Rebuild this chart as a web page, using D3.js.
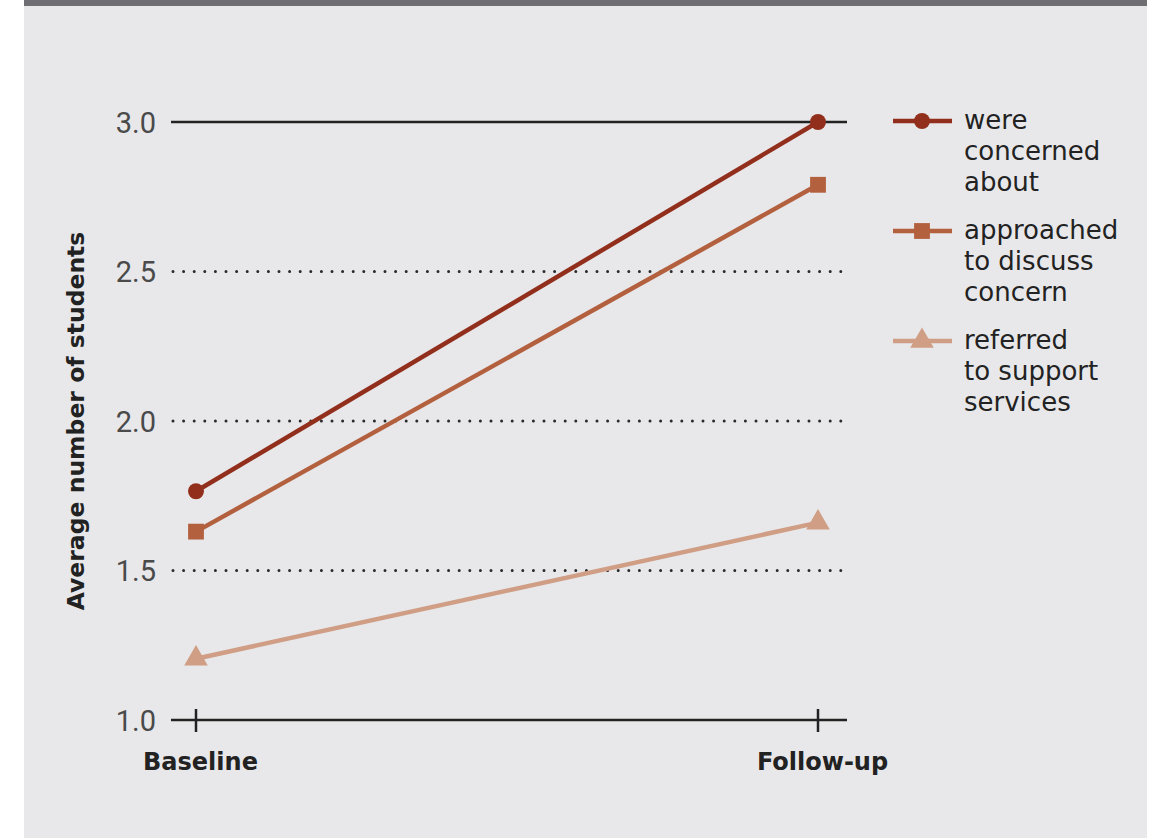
<!DOCTYPE html>
<html><head><meta charset="utf-8">
<script src="https://cdn.jsdelivr.net/npm/d3@7"></script>
<style>
html,body{margin:0;padding:0;background:#fff;}
svg{display:block;}
</style></head>
<body>
<script>
const categories = ["Baseline", "Follow-up"];
const seriesNames = ["were concerned about", "approached to discuss concern", "referred to support services"];
const legendLines = [["were", "concerned", "about"], ["approached", "to discuss", "concern"], ["referred", "to support", "services"]];
const concerned = [1.765, 3.0];
const approached = [1.63, 2.79];
const referred = [1.205, 1.66];
const yTicks = [1.0, 1.5, 2.0, 2.5, 3.0];
const colors = ["#922f1c", "#b3603f", "#d09d85"];
const symbols = [d3.symbolCircle, d3.symbolSquare, d3.symbolTriangle];
const symSizes = [200, 250, 240];

const W = 1157, H = 838;
const svg = d3.select("body").append("svg").attr("width", W).attr("height", H);
svg.append("rect").attr("x", 24).attr("y", 0).attr("width", 1123).attr("height", H).attr("fill", "#e8e8ea");
svg.append("rect").attr("x", 24).attr("y", 0).attr("width", 1123).attr("height", 6).attr("fill", "#6f6e73");

const y = d3.scaleLinear().domain([1, 3]).range([720, 122]);
const x = d3.scalePoint().domain(categories).range([196, 818]);
const xL = 171, xR = 847;

// gridlines
const g = svg.append("g");
yTicks.filter(t => t > 1 && t < 3).forEach(t => {
  g.append("line").attr("x1", xL + 2).attr("x2", xR).attr("y1", y(t)).attr("y2", y(t))
   .attr("stroke", "#2a2a2a").attr("stroke-width", 3).attr("stroke-linecap", "round")
   .attr("stroke-dasharray", "0 10.6");
});
g.append("line").attr("x1", xL).attr("x2", xR).attr("y1", y(3)).attr("y2", y(3))
 .attr("stroke", "#222").attr("stroke-width", 2.5);

// y axis labels
const yAxis = d3.axisLeft(y).tickValues(yTicks).tickFormat(d3.format(".1f")).tickSize(0).tickPadding(15);
const ya = svg.append("g").attr("transform", `translate(${xL},0)`).call(yAxis);
ya.select(".domain").remove();
ya.selectAll("text").attr("font-family", "'Liberation Sans Narrow', 'Roboto', sans-serif")
  .attr("font-size", 29).attr("fill", "#4a4a4a").attr("dy", "0.35em");

// x axis
const xAxis = d3.axisBottom(x).tickSize(0).tickPadding(33);
const xa = svg.append("g").attr("transform", `translate(0,${y(1)})`).call(xAxis);
xa.select(".domain").remove();
xa.selectAll("text").attr("font-family", "'DejaVu Sans', sans-serif").attr("font-weight", "bold")
  .attr("font-size", 24).attr("fill", "#222").attr("dx", 4);
svg.append("line").attr("x1", xL).attr("x2", xR).attr("y1", y(1)).attr("y2", y(1))
  .attr("stroke", "#222").attr("stroke-width", 2.5);
categories.forEach(c => {
  svg.append("line").attr("x1", x(c)).attr("x2", x(c)).attr("y1", y(1) - 11).attr("y2", y(1) + 12)
    .attr("stroke", "#222").attr("stroke-width", 2.5);
});

// y title
svg.append("text").attr("transform", "translate(84,421) rotate(-90)").attr("text-anchor", "middle")
  .attr("font-family", "'DejaVu Sans', sans-serif").attr("font-weight", "bold").attr("font-size", 23.5)
  .attr("fill", "#222").text("Average number of students");

// series
const allSeries = [concerned, approached, referred];
const line = d3.line().x((d, i) => x(categories[i])).y(d => y(d));
[2, 1, 0].forEach(k => {
  const vals = allSeries[k];
  svg.append("path").datum(vals).attr("d", line).attr("fill", "none")
    .attr("stroke", colors[k]).attr("stroke-width", 4.5);
  vals.forEach((v, i) => {
    svg.append("path").attr("d", d3.symbol().type(symbols[k]).size(symSizes[k])())
      .attr("transform", `translate(${x(categories[i])},${y(v)})`).attr("fill", colors[k]);
  });
});

// legend
const legY = [121, 231, 341];
legendLines.forEach((lines, k) => {
  const lg = svg.append("g").attr("transform", `translate(0,${legY[k]})`);
  lg.append("line").attr("x1", 893).attr("x2", 952).attr("y1", 0).attr("y2", 0)
    .attr("stroke", colors[k]).attr("stroke-width", 4.5);
  lg.append("path").attr("d", d3.symbol().type(symbols[k]).size(symSizes[k])())
    .attr("transform", "translate(922,0)").attr("fill", colors[k]);
  lines.forEach((t, j) => {
    lg.append("text").attr("x", 964).attr("y", j * 31).attr("dy", "0.3em")
      .attr("font-family", "'DejaVu Sans', sans-serif").attr("font-size", 26)
      .attr("fill", "#222").text(t);
  });
});
</script>
</body></html>
